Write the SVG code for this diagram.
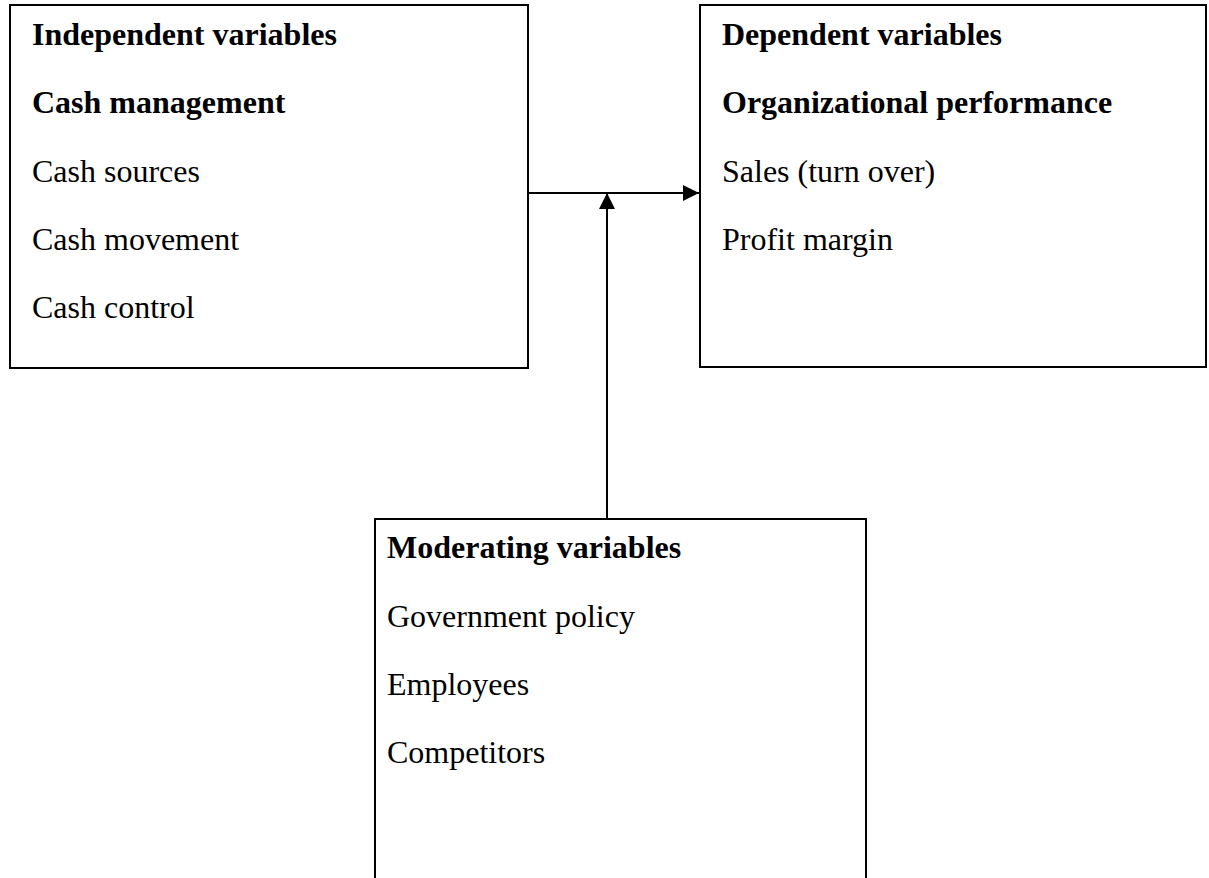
<svg xmlns="http://www.w3.org/2000/svg" width="1209" height="878" viewBox="0 0 1209 878">
<style>
.box{fill:#fff;stroke:#000;stroke-width:2}
.t{font-family:"Liberation Serif","Times New Roman",serif;font-size:32px;fill:#000}
.b{font-weight:bold}
.c{stroke:#000;stroke-width:2;fill:none}
</style>
<defs>
<marker id="ah" viewBox="0 0 16 16" refX="16" refY="8" markerWidth="16" markerHeight="16" markerUnits="userSpaceOnUse" orient="auto">
<path d="M0,0 L16,8 L0,16 Z" fill="#000"/>
</marker>
</defs>
<rect width="1209" height="878" fill="#fff"/>
<g id="independent">
<rect class="box" x="10" y="5" width="518" height="363"/>
<text class="t b" x="32" y="45">Independent variables</text>
<text class="t b" x="32" y="113">Cash management</text>
<text class="t" x="32" y="182">Cash sources</text>
<text class="t" x="32" y="250">Cash movement</text>
<text class="t" x="32" y="318">Cash control</text>
</g>
<g id="dependent">
<rect class="box" x="700" y="5" width="506" height="362"/>
<text class="t b" x="722" y="45">Dependent variables</text>
<text class="t b" x="722" y="113">Organizational performance</text>
<text class="t" x="722" y="182">Sales (turn over)</text>
<text class="t" x="722" y="250">Profit margin</text>
</g>
<g id="moderating">
<rect class="box" x="375" y="519" width="491" height="370"/>
<text class="t b" x="387" y="558">Moderating variables</text>
<text class="t" x="387" y="627">Government policy</text>
<text class="t" x="387" y="695">Employees</text>
<text class="t" x="387" y="763">Competitors</text>
</g>
<g id="connectors">
<line class="c" x1="528" y1="193" x2="699" y2="193" marker-end="url(#ah)"/>
<line class="c" x1="607" y1="519" x2="607" y2="193" marker-end="url(#ah)"/>
</g>
</svg>
